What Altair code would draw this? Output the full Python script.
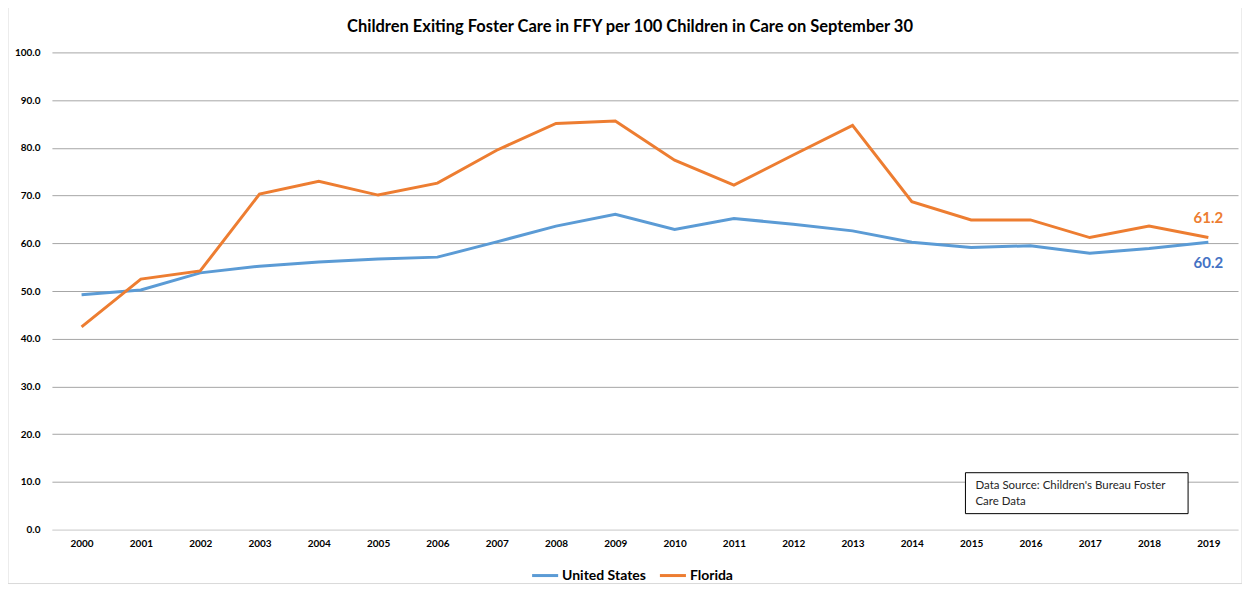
import altair as alt
import pandas as pd

years = [str(y) for y in range(2000, 2020)]
us = [49.2, 50.2, 53.8, 55.2, 56.1, 56.7, 57.1, 60.3, 63.6, 66.1,
      62.9, 65.2, 64.0, 62.6, 60.2, 59.1, 59.5, 57.9, 58.9, 60.2]
fl = [42.5, 52.5, 54.2, 70.3, 73.0, 70.1, 72.6, 79.5, 85.1, 85.6,
      77.4, 72.2, 78.5, 84.7, 68.7, 64.9, 64.9, 61.2, 63.6, 61.2]
series = ["United States", "Florida"]
colors = ["#5B9BD5", "#ED7D31"]
label_colors = ["#4472C4", "#ED7D31"]
source_lines = ["Data Source:  Children's Bureau Foster", "Care Data"]
title_text = ["Children Exiting Foster Care in FFY per 100 Children in Care on September 30"]

rows = []
for s, vals in zip(series, [us, fl]):
    for y, v in zip(years, vals):
        rows.append({"year": y, "value": v, "series": s})
df = pd.DataFrame(rows)

end_df = pd.DataFrame({
    "year": [years[-1], years[-1]],
    "value": [us[-1], fl[-1]],
    "series": series,
    "label": [f"{us[-1]:.1f}", f"{fl[-1]:.1f}"],
})

FONT = "Lato"

x = alt.X("year:O", title=None,
          scale=alt.Scale(domain=years, paddingInner=0, paddingOuter=0),
          axis=alt.Axis(labelAngle=0, ticks=False, labelFontWeight="bold",
                        labelFontSize=10, labelPadding=9, labelColor="#000",
                        domainColor="#d9d9d9", grid=False))
y = alt.Y("value:Q", title=None,
          scale=alt.Scale(domain=[0, 100], nice=False),
          axis=alt.Axis(values=list(range(0, 101, 10)), format=".1f",
                        ticks=False, domain=False, labelFontWeight="bold",
                        labelFontSize=10, labelPadding=12, labelColor="#000",
                        gridColor={"condition": {"test": "datum.value === 0", "value": "#d9d9d9"},
                                   "value": "#a6a6a6"},
                        gridWidth=1))

lines = alt.Chart(df).mark_line(strokeWidth=3).encode(
    x=x, y=y,
    color=alt.Color("series:N",
                    scale=alt.Scale(domain=series, range=colors),
                    legend=alt.Legend(title=None, orient="none", legendX=479, legendY=509,
                                      direction="horizontal", symbolType="stroke",
                                      symbolStrokeWidth=3, symbolSize=680,
                                      labelFontSize=14, labelFontWeight="bold",
                                      labelColor="#000", columnPadding=7,
                                      labelOffset=2)),
    detail="series:N",
)

end_fl = alt.Chart(end_df[end_df.series == "Florida"]).mark_text(
    fontSize=15, fontWeight="bold", dy=-20, align="center", font=FONT, color=label_colors[1]
).encode(x=x, y=y, text="label:N")
end_us = alt.Chart(end_df[end_df.series == "United States"]).mark_text(
    fontSize=15, fontWeight="bold", dy=21, align="center", font=FONT, color=label_colors[0]
).encode(x=x, y=y, text="label:N")

box = alt.Chart(pd.DataFrame({"a": [0]})).mark_rect(
    fill="white", stroke="#000", strokeWidth=1
).encode(x=alt.value(915), x2=alt.value(1138), y=alt.value(421), y2=alt.value(462))

src_df = pd.DataFrame({"t": source_lines, "yy": [434, 450]})
src = alt.Chart(src_df).mark_text(
    align="left", baseline="middle", fontSize=11.5, font=FONT, color="#262626"
).encode(x=alt.value(925), y=alt.Y("yy:Q", scale=None, axis=None), text="t:N")

title = alt.Chart(pd.DataFrame({"t": title_text})).mark_text(
    align="center", baseline="middle", fontSize=16.5, fontWeight="bold", font=FONT,
    color="#000", clip=False
).encode(x=alt.value(579), y=alt.value(-25), text="t:N")

border = alt.Chart(pd.DataFrame({"a": [0]})).mark_rect(
    fill=None, stroke="#d9d9d9", strokeWidth=1, clip=False
).encode(x=alt.value(-44), x2=alt.value(1192), y=alt.value(-46), y2=alt.value(532))

chart = alt.layer(border, lines, end_fl, end_us, box, src, title).properties(
    width=1188, height=478,
    autosize=alt.AutoSizeParams(type="none"),
    padding={"left": 44, "top": 44, "right": 4, "bottom": 60},
).configure(font=FONT).configure_view(stroke=None).configure_axis(labelFont=FONT)

chart.save("out.html", embed_options={"renderer": "svg", "actions": False})
